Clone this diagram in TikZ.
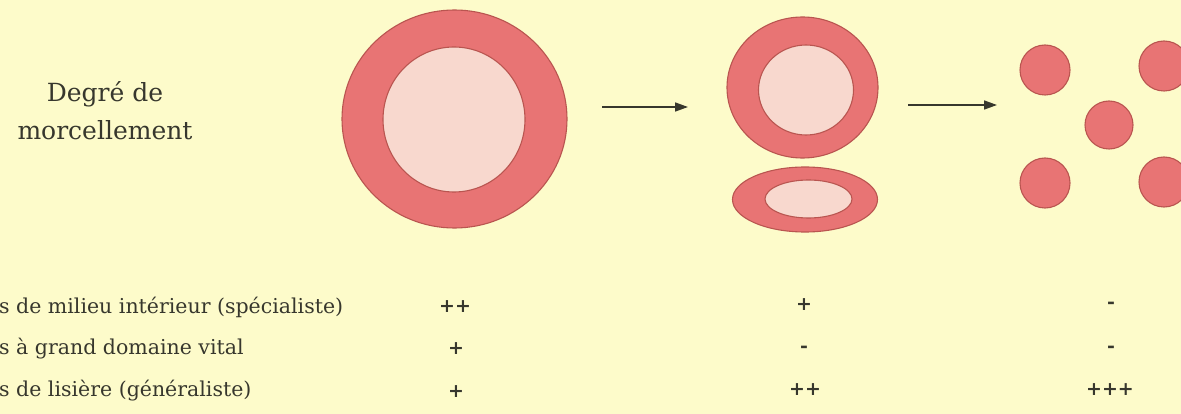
\documentclass[tikz,border=0pt]{standalone}
\usepackage{fontspec}
\setmainfont{DejaVu Serif}
\usetikzlibrary{shapes.geometric,arrows.meta}
\definecolor{bg}{RGB}{253,251,202}
\definecolor{ring}{RGB}{232,116,116}
\definecolor{core}{RGB}{248,216,206}
\definecolor{edge}{RGB}{185,85,80}
\definecolor{ink}{RGB}{55,55,45}
\begin{document}
\begin{tikzpicture}[x=1pt,y=-1pt,
  outerpart/.style={ellipse,draw=edge,line width=1.1pt,fill=ring,inner sep=0pt},
  innerpart/.style={ellipse,draw=edge,line width=1.1pt,fill=core,inner sep=0pt},
  dot/.style={circle,draw=edge,line width=1.1pt,fill=ring,inner sep=0pt,minimum size=50pt},
  arr/.style={draw=ink,line width=1.6pt,-{Triangle[length=13pt,width=9pt]}},
  title/.style={font=\fontsize{25}{38}\selectfont,text=ink,align=center},
  rowtext/.style={font=\fontsize{20.5}{24}\selectfont,text=ink,anchor=west,inner sep=0pt},
  sign/.style={font=\fontsize{19}{22}\selectfont\bfseries,text=ink,inner sep=0pt}
]
\fill[bg] (0,0) rectangle (1181,414);
\useasboundingbox (0,0) rectangle (1181,414);

\node[title] (title) at (105,111) {Degré de\\morcellement};

% stage 1
\node[outerpart,minimum width=225pt,minimum height=218pt] (big) at (454.5,119) {};
\node[innerpart,minimum width=142pt,minimum height=145pt] (bigin) at (454,119.5) {};

% stage 2
\node[outerpart,minimum width=151pt,minimum height=141pt] (mid) at (802.5,87.5) {};
\node[innerpart,minimum width=95pt,minimum height=90pt] (midin) at (806,90) {};
\node[outerpart,minimum width=145pt,minimum height=65pt] (flat) at (805,199.5) {};
\node[innerpart,minimum width=87pt,minimum height=38pt] (flatin) at (808.5,199) {};

% stage 3
\node[dot] (d1) at (1045,70) {};
\node[dot] (d2) at (1164,66) {};
\node[dot,minimum size=48pt] (d3) at (1109,125) {};
\node[dot] (d4) at (1045,183) {};
\node[dot] (d5) at (1164,182) {};

% arrows
\coordinate (a1s) at (602,107);
\coordinate (a1e) at (688,107);
\coordinate (a2s) at (908,105);
\coordinate (a2e) at (997,105);
\draw[arr] (a1s) -- (a1e);
\draw[arr] (a2s) -- (a2e);

% table
\node[rowtext] (r1) at (-1,307) {s de milieu intérieur (spécialiste)};
\node[rowtext] (r2) at (-1,349) {s à grand domaine vital};
\node[rowtext] (r3) at (-1,391) {s de lisière (généraliste)};

\node[sign] (m11) at (455,307) {++};
\node[sign] (m21) at (456,349) {+};
\node[sign] (m31) at (456,392) {+};
\node[sign] (m12) at (804,305) {+};
\node[sign] (m22) at (804,349) {-};
\node[sign] (m32) at (805,390) {++};
\node[sign] (m13) at (1111,305) {-};
\node[sign] (m23) at (1111,349) {-};
\node[sign] (m33) at (1110,390) {+++};
\end{tikzpicture}
\end{document}
